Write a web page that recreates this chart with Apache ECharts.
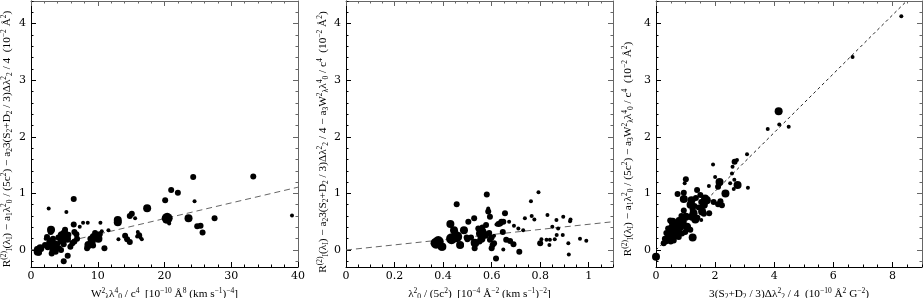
<!DOCTYPE html>
<html><head><meta charset="utf-8">
<script src="https://cdn.jsdelivr.net/npm/echarts@6/dist/echarts.min.js"></script>
<style>html,body{margin:0;padding:0;background:#fff}#c{width:923px;height:298px}</style>
</head><body><div id="c"></div>
<script>
// ---------- Panel 1 data ----------
const p1X = [2.65,6.4,5.3,7.8,8.5,10.4,7.3,3.0,2.95,5.1,5.0,6.5,6.8,2.4,4.6,4.8,2.9,3.3,2.8,3.4,3.9,4.4,4.9,5.4,5.6,5.9,6.9,2.1,1.4,1.0,0.9,1.2,3.1,3.7,4.2,5.5,4.9,6.5,8.4,8.6,9.1,9.4,9.9,10.1,8.9,9.6,11.0,10.6,11.6,13.0,13.0,13.1,14.1,14.4,14.8,14.8,15.1,15.6,15.9,16.2,16.0,16.4,16.6,17.4,20.1,20.4,20.7,21.0,22.0,24.3,24.5,23.6,24.9,25.4,25.7,27.5,33.3,39.1,1.6,2.2,3.6,4.1,3.2,2.5,4.5,6.2,6.4,9.3,10.3];
const p1Y = [0.735,0.9,0.67,0.48,0.48,0.48,0.41,0.36,0.32,0.36,0.29,0.32,0.28,0.23,0.26,0.2,0.15,0.2,0.09,0.06,0.1,0.15,0.1,0.2,0.27,0.06,0.2,0.09,0.03,-0.03,0.02,-0.05,-0.06,-0.03,0.03,-0.1,-0.2,0.15,0.03,0.09,0.15,0.23,0.25,0.2,0.2,0.3,0.03,0.33,0.35,0.53,0.49,0.19,0.25,0.19,0.14,0.6,0.64,0.56,0.24,0.26,0.32,0.22,0.19,0.74,0.88,0.56,0.47,1.06,1.01,1.29,0.86,0.56,0.42,0.43,0.31,0.56,1.3,0.61,0.05,0.2,0.12,0.22,0.0,0.05,0.0,0.12,0.45,0.08,0.28];
const p1W = [1,2,1,1,1,1,1,3,2,2,3,2,2,2,3,3,3,2,3,3,2,2,2,3,2,2,2,2,3,3,2,2,2,2,2,2,2,2,2,3,3,3,3,3,2,2,2,1,1,3,3,1,2,2,2,2,2,1,1,2,1,1,1,3,2,4,1,2,2,2,1,3,2,2,2,2,2,1,1,1,2,2,2,2,2,2,2,2,2];
const p1FitX = [0, 40];
const p1FitY = [0, 1.11];
const p1XTicks = [0, 10, 20, 30, 40];

// ---------- Panel 2 data ----------
const p2X = [0.371,0.38,0.394,0.385,0.43,0.435,0.456,0.445,0.45,0.456,0.47,0.486,0.497,0.504,0.515,0.53,0.53,0.528,0.545,0.552,0.558,0.562,0.566,0.575,0.58,0.577,0.59,0.593,0.6,0.593,0.586,0.586,0.58,0.618,0.604,0.61,0.62,0.635,0.646,0.648,0.655,0.66,0.672,0.648,0.676,0.69,0.692,0.71,0.714,0.73,0.737,0.762,0.765,0.776,0.793,0.8,0.805,0.826,0.83,0.84,0.85,0.838,0.86,0.867,0.868,0.874,0.895,0.893,0.916,0.918,0.923,0.925,0.964,0.99,0.397,0.473,0.5,0.532,0.628,0.6,0.64,0.55,0.61];
const p2Y = [0.12,0.15,0.06,0.1,0.46,0.2,0.235,0.35,0.3,0.81,0.09,0.35,0.22,0.5,0.22,0.13,0.03,0.56,0.38,0.29,0.2,0.4,0.33,0.25,0.28,0.44,0.3,0.18,0.03,0.59,0.68,0.735,0.98,-0.15,0.09,0.12,0.45,0.47,0.32,0.5,0.65,0.18,0.5,0.01,0.16,0.1,0.43,0.38,-0.03,0.35,0.56,0.86,0.6,0.54,1.02,0.12,0.19,0.18,0.62,0.18,0.41,0.09,0.19,0.53,0.265,0.38,0.59,0.265,0.12,-0.08,0.51,0.54,0.2,0.165,0.06,0.09,0.19,0.12,0.46,0.22,0.5,0.15,0.25];
const p2W = [4,4,3,3,3,4,4,3,2,2,3,3,2,2,2,3,2,2,2,3,3,2,2,2,2,2,2,2,2,2,2,1,2,2,2,2,1,2,2,2,2,2,1,1,2,2,1,1,2,1,1,1,1,1,1,2,1,1,1,1,1,1,1,1,1,1,1,1,1,1,1,1,1,1,3,2,2,3,2,2,2,2,1];
const p2FitX = [0, 1.1];
const p2FitY = [0, 0.5];
const p2XTicks = [0, 0.2, 0.4, 0.6, 0.8, 1];

// ---------- Panel 3 data ----------
const p3X = [0.0,8.3,6.65,4.15,4.17,3.78,4.49,3.08,3.11,2.74,2.66,2.59,2.57,2.65,2.51,2.76,2.63,1.93,2.0,2.15,2.1,2.35,1.95,2.1,2.18,2.23,1.8,1.72,1.66,1.6,1.53,1.5,1.39,1.35,1.62,1.45,1.56,1.62,1.53,1.27,1.24,1.2,1.17,1.3,1.22,1.33,1.01,0.97,0.94,0.94,0.73,0.94,1.01,1.24,0.77,0.88,1.05,0.74,0.26,0.33,0.43,0.38,0.48,0.52,0.6,0.65,0.77,0.88,0.99,1.1,0.82,0.71,0.48,0.56,0.41,0.94,1.16,0.86,1.4,0.55,0.62,0.45,0.35,0.3,0.7,0.5,1.79,2.13];
const p3Y = [-0.12,4.13,3.41,2.45,2.22,2.14,2.18,1.69,1.1,1.59,1.56,1.47,1.35,1.24,1.18,1.15,1.08,1.51,1.29,1.2,1.12,1.0,0.85,0.81,0.86,0.79,0.65,0.88,0.91,0.86,0.85,0.97,1.06,0.92,0.8,0.75,0.68,0.64,0.53,0.65,0.72,0.88,0.8,0.78,0.59,0.54,1.25,1.18,1.01,0.9,0.99,0.7,0.59,0.22,0.53,0.5,0.41,0.35,0.12,0.15,0.17,0.22,0.29,0.33,0.17,0.25,0.23,0.29,0.32,0.38,0.41,0.47,0.52,0.5,0.38,0.5,0.36,0.6,0.57,0.4,0.35,0.2,0.3,0.2,0.3,0.15,1.13,1.2];
const p3W = [3,1,1,3,1,1,1,1,1,1,2,1,1,1,1,3,1,1,1,3,2,3,2,2,2,2,2,3,3,2,2,2,2,2,3,2,3,2,1,3,2,3,3,2,3,3,2,1,2,3,2,2,3,3,2,3,3,3,2,2,2,2,2,3,2,3,2,2,2,2,3,3,2,3,2,2,2,2,2,3,3,3,2,2,3,2,1,2];
const p3FitX = [0, 8.48];
const p3FitY = [0, 4.4];
const p3XTicks = [0, 2, 4, 6, 8];

const yTicks = [0, 1, 2, 3, 4];

// ---------- helpers ----------
const FONT = 'DejaVu Serif';
const NFONT = 'Liberation Serif';
const sizeOf = {1: 4, 2: 6, 3: 8, 4: 11};
function steps(min, max, step) {
  const out = [];
  for (let k = Math.ceil(min / step - 1e-9); k * step <= max + 1e-9; k++) out.push(+(k * step).toFixed(6));
  return out;
}
const sp = t => '{sp|' + t + '}';
const sb = t => '{sb|' + t + '}';
const rich = {
  sp: {fontSize: 7.5, fontFamily: NFONT, color: '#000', verticalAlign: 'top'},
  sb: {fontSize: 7.5, fontFamily: NFONT, color: '#000', verticalAlign: 'bottom'}
};
const R = 'R' + sp('(2)') + sb('I') + '(λ' + sb('I') + ')';
const A1 = 'a' + sb('1') + 'λ' + sp('2') + sb('0') + ' / (5c' + sp('2') + ')';
const A2 = 'a' + sb('2') + '3(S' + sb('2') + '+D' + sb('2') + ' / 3)Δλ' + sp('2') + sb('2') + ' / 4';
const A3 = 'a' + sb('3') + 'W' + sp('2') + sb('λ') + 'λ' + sp('4') + sb('0') + ' / c' + sp('4');
const YU = '  (10' + sp('−2') + ' Å' + sp('2') + ')';
const names = {
  x1: 'W' + sp('2') + sb('λ') + 'λ' + sp('4') + sb('0') + ' / c' + sp('4') + '  [10' + sp('−10') + ' Å' + sp('8') + ' (km s' + sp('−1') + ')' + sp('−4') + ']',
  y1: R + ' − ' + A1 + ' − ' + A2 + YU,
  x2: 'λ' + sp('2') + sb('0') + ' / (5c' + sp('2') + ')  [10' + sp('−4') + ' Å' + sp('−2') + ' (km s' + sp('−1') + ')' + sp('−2') + ']',
  y2: R + ' − ' + A2 + ' − ' + A3 + YU,
  x3: '3(S' + sb('2') + '+D' + sb('2') + ' / 3)Δλ' + sp('2') + sb('2') + ' / 4  (10' + sp('−10') + ' Å' + sp('2') + ' G' + sp('−2') + ')',
  y3: R + ' − ' + A1 + ' − ' + A3 + YU
};

function axesFor(gi, dim, min, max, major, minorStep, name, nameGap, namePad) {
  const pos = dim === 'x' ? ['bottom', 'top'] : ['left', 'right'];
  const minor = steps(min, max, minorStep);
  const base = {gridIndex: gi, type: 'value', min, max, splitLine: {show: false}};
  const line = (show, col) => ({show, onZero: false, lineStyle: {color: col, width: 1}});
  const tick = (vals, len, col) => ({show: true, inside: true, length: len, customValues: vals, lineStyle: {color: col, width: 1}});
  return [
    Object.assign({}, base, {
      position: pos[0], name, nameLocation: 'middle', nameGap, nameRotate: dim === 'y' ? 90 : 0,
      nameTextStyle: {fontFamily: NFONT, fontSize: 11.25, color: '#000', lineHeight: 14, padding: namePad, rich},
      axisLine: line(true, '#000'),
      axisTick: tick(major, 5, '#000'),
      axisLabel: {show: true, customValues: major, margin: dim === 'x' ? 4 : 5, color: '#000', fontSize: 11, fontFamily: FONT}
    }),
    Object.assign({}, base, {position: pos[0], axisLine: line(false, '#000'), axisTick: tick(minor, 2.5, '#000'), axisLabel: {show: false}}),
    Object.assign({}, base, {position: pos[1], axisLine: line(true, '#666'), axisTick: tick(major, 5, '#666'), axisLabel: {show: false}}),
    Object.assign({}, base, {position: pos[1], axisLine: line(false, '#666'), axisTick: tick(minor, 2.5, '#666'), axisLabel: {show: false}})
  ];
}

const panels = [
  {X: p1X, Y: p1Y, W: p1W, fx: p1FitX, fy: p1FitY, xmin: 0, xmax: 40, xt: p1XTicks, xm: 2, xn: names.x1, yn: names.y1, ygap: 17, ypad: [0, 10, 0, 0], dash: [6, 4], dcol: '#666'},
  {X: p2X, Y: p2Y, W: p2W, fx: p2FitX, fy: p2FitY, xmin: 0, xmax: 1.1, xt: p2XTicks, xm: 0.05, xn: names.x2, yn: names.y2, ygap: 16, ypad: [0, 16, 0, 0], dash: [6, 4], dcol: '#666'},
  {X: p3X, Y: p3Y, W: p3W, fx: p3FitX, fy: p3FitY, xmin: 0, xmax: 9, xt: p3XTicks, xm: 0.5, xn: names.x3, yn: names.y3, ygap: 21, ypad: [0, 30, 0, 0], dash: [3, 3], dcol: '#222'}
];
const gridBase = {top: 1, height: 266, containLabel: false, outerBoundsMode: 'none'};
const grids = [
  Object.assign({left: 31, width: 267}, gridBase),
  Object.assign({left: 346, width: 267}, gridBase),
  Object.assign({left: 656, width: 266}, gridBase)
];

const xAxis = [], yAxis = [], series = [];
panels.forEach((p, gi) => {
  xAxis.push(...axesFor(gi, 'x', p.xmin, p.xmax, p.xt, p.xm, p.xn, 16, [0, 0, 0, 0]));
  yAxis.push(...axesFor(gi, 'y', -0.3, 4.4, yTicks, 0.2, p.yn, p.ygap, p.ypad));
  series.push({
    type: 'line', xAxisIndex: gi * 4, yAxisIndex: gi * 4, symbol: 'none', silent: true, z: 1,
    data: p.fx.map((v, i) => [v, p.fy[i]]),
    lineStyle: {color: p.dcol, width: 1, type: p.dash}
  });
  series.push({
    type: 'scatter', xAxisIndex: gi * 4, yAxisIndex: gi * 4, z: 2,
    data: p.X.map((v, i) => [v, p.Y[i], p.W[i]]),
    symbolSize: v => sizeOf[v[2]],
    itemStyle: {color: '#000', opacity: 1}
  });
});

const chart = echarts.init(document.getElementById('c'), null, {renderer: 'canvas'});
chart.setOption({animation: false, backgroundColor: '#fff', grid: grids, xAxis, yAxis, series});
</script></body></html>
